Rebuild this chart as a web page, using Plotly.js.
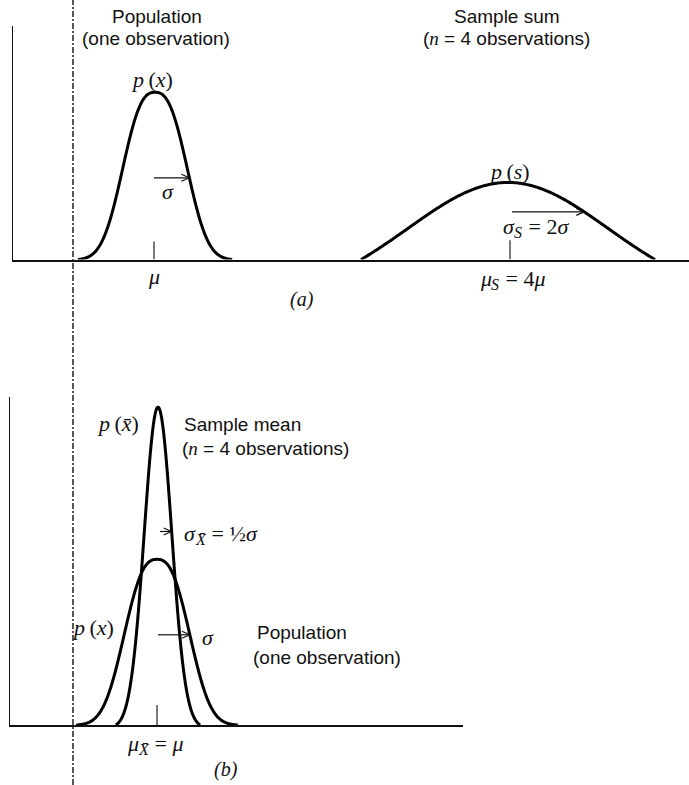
<!DOCTYPE html>
<html><head><meta charset="utf-8">
<script src="https://cdn.plot.ly/plotly-3.0.1.min.js"></script>
<style>html,body{margin:0;padding:0;background:#fff}</style>
</head><body><div id="chart" style="width:689px;height:785px"></div>
<script>
// ---- Data (axis units; each panel has its own axes) ----
const curveNames   = ["Population (a)", "Sample sum (a)", "Population (b)", "Sample mean (b)"];
const curvePanels  = ["a", "a", "b", "b"];
const curveMeans   = [14.2, 49.5, 14.7, 14.8];
const curveSigmas  = [3.0, 10.0, 3.05, 1.38];
const curveSpans   = [2.57, 1.47, 2.65, 3.05];   // drawn half-width, in sigmas
const curveShapes  = [2.6, 2.0, 2.6, 2.0];       // bell exponent (2 = normal)
const curvePeaks   = [0.716, 0.33, 0.505, 0.969];
const arrowHeights = [0.35, 0.204, 0.275, 0.59]; // height of each sigma arrow
const arrowStarts  = [14.1, 49.9, 14.8, 15.0];   // tail x of each sigma arrow
const meanTickPanels  = ["a", "a", "b"];
const meanTickX       = [14.1, 49.7, 14.7];
const meanTickHeights = [0.077, 0.082, 0.061];
const originLineX = 6.0;                         // dashed vertical line (panel a units)
const xRangeA = [0, 67.6], yRangeA = [0, 1];
const xRangeB = [0, 45.3], yRangeB = [0, 1];

// ---- helpers ----
function g(z, p){ return Math.exp(-0.5*Math.pow(Math.abs(z), p)); }
function curveY(i, x){
  const z = (x - curveMeans[i]) / curveSigmas[i], s = curveSpans[i], p = curveShapes[i];
  if (Math.abs(z) > s) return 0;
  return curvePeaks[i] * (g(z, p) - g(s, p)) / (1 - g(s, p));
}
function curveXAt(i, h){ // right-side x where the curve reaches height h
  const s = curveSpans[i], p = curveShapes[i];
  const gv = g(s, p) + (h / curvePeaks[i]) * (1 - g(s, p));
  return curveMeans[i] + curveSigmas[i] * Math.pow(-2*Math.log(gv), 1/p);
}
const ax = p => p === "a" ? "x" : "x2";
const ay = p => p === "a" ? "y" : "y2";

const traces = curveNames.map((name, i) => {
  const xs = [], ys = [];
  const lo = curveMeans[i] - curveSpans[i]*curveSigmas[i];
  const hi = curveMeans[i] + curveSpans[i]*curveSigmas[i];
  for (let k = 0; k <= 240; k++) { const x = lo + (hi-lo)*k/240; xs.push(x); ys.push(curveY(i, x)); }
  return {x: xs, y: ys, name, type: "scatter", mode: "lines",
          line: {color: "#000", width: 3, shape: "spline"},
          xaxis: ax(curvePanels[i]), yaxis: ay(curvePanels[i]), hoverinfo: "skip"};
});

const shapes = [];
meanTickX.forEach((x, i) => {
  shapes.push({type: "line", xref: ax(meanTickPanels[i]), yref: ay(meanTickPanels[i]),
    x0: x, x1: x, y0: 0, y1: meanTickHeights[i], line: {color: "#222", width: 1.2}});
});
shapes.push({type: "line", xref: "x", yref: "paper", x0: originLineX, x1: originLineX, y0: 0, y1: 1,
  line: {color: "#222", width: 1.5, dash: "6px,2px,2px,2px"}});
// sigma arrows: shaft from tail to the curve, plus two barbs sized in pixels
curveNames.forEach((n, i) => {
  const p = curvePanels[i], h = arrowHeights[i], tip = curveXAt(i, h);
  const ln = {color: "#111", width: 1.2};
  shapes.push({type: "line", xref: ax(p), yref: ay(p), x0: arrowStarts[i], x1: tip, y0: h, y1: h, line: ln});
  [1, -1].forEach(sg => shapes.push({type: "line", xref: ax(p), yref: ay(p),
    xsizemode: "pixel", xanchor: tip, x0: -8, x1: 0,
    ysizemode: "pixel", yanchor: h, y0: 3.5*sg, y1: 0, line: ln}));
});

const W = 689, H = 785;
const SANS = "Liberation Sans", SERIF = "Liberation Serif";
function lab(text, px, py, opt){
  opt = opt || {};
  return {text, x: px/W, y: 1 - py/H, xref: "paper", yref: "paper", showarrow: false,
    xanchor: opt.xa || "center", yanchor: "middle",
    font: {family: opt.serif ? SERIF : SANS, size: opt.size || 19, color: "#111"}};
}
// math label built from pieces (main text + subscript), measured with a canvas
const cv = document.createElement("canvas").getContext("2d");
function segW(str, size, it){ cv.font = (it ? "italic " : "") + size + "px 'Liberation Serif'"; return cv.measureText(str).width; }
function mathLab(pieces, px, py, align){
  const widths = pieces.map(pc => pc.segs.reduce((w, s) => w + segW(s[0], pc.size, s[1]), 0) + (pc.gap || 0));
  const total = widths.reduce((a, b) => a + b, 0);
  let x = align === "left" ? px : px - total/2;
  return pieces.map((pc, k) => {
    const html = pc.segs.map(s => s[1] ? "<i>" + s[0] + "</i>" : s[0]).join("");
    const a = lab(html, x + (pc.pre || 0), py + (pc.dy || 0), {serif: true, size: pc.size, xa: "left"});
    x += widths[k];
    return a;
  });
}
const NB = "\u00a0";
const main = (segs, pre) => ({segs, size: 22, pre: pre || 0});
const sub  = segs => ({segs, size: 16, dy: 6, gap: 1});

const M = {serif: true, size: 22};
const sn = '<span style="font-family:Liberation Serif"><i>n</i></span>';
const annotations = [
  lab("Population", 157, 17),
  lab("(one observation)", 156, 39),
  lab("<i>p</i>\u2009(<i>x</i>)", 152, 80, M),
  lab("<i>σ</i>", 168, 192, M),
  lab("<i>μ</i>", 154, 277, M),
  lab("<i>(a)</i>", 302, 299, {serif: true, size: 20}),
  lab("Sample sum", 507, 17),
  lab("(" + sn + " = 4 observations)", 507, 39),
  lab("<i>p</i>\u2009(<i>s</i>)", 509, 172, M),
  lab("<i>p</i>\u2009(<i>x̄</i>)", 118, 423, M),
  lab("Sample mean", 182, 424, {xa: "left"}),
  lab("(" + sn + " = 4 observations)", 180, 448, {xa: "left"}),
  lab("<i>p</i>\u2009(<i>x</i>)", 93, 627, M),
  lab("<i>σ</i>", 208, 637, M),
  lab("Population", 255, 632, {xa: "left"}),
  lab("(one observation)", 251, 657, {xa: "left"}),
  lab("<i>(b)</i>", 226, 769, {serif: true, size: 20})
].concat(
  mathLab([main([["σ", 1]]), sub([["S", 1]]), main([[NB + "=" + NB + "2", 0], ["σ", 1]])], 534, 227),
  mathLab([main([["μ", 1]]), sub([["S", 1]]), main([[NB + "=" + NB + "4", 0], ["μ", 1]])], 511, 279),
  mathLab([main([["σ", 1]]), sub([["X̄", 1]]), main([[NB + "=" + NB + "½", 0], ["σ", 1]])], 182, 533, "left"),
  mathLab([main([["μ", 1]]), sub([["X̄", 1]]), main([[NB + "=" + NB, 0], ["μ", 1]])], 153, 743)
);

const axisBase = {showgrid: false, zeroline: false, showticklabels: false, ticks: "",
  showline: true, linecolor: "#111", fixedrange: true};
const layout = {
  width: W, height: H, margin: {l: 0, r: 0, t: 0, b: 0},
  paper_bgcolor: "#fff", plot_bgcolor: "rgba(0,0,0,0)", showlegend: false,
  xaxis:  Object.assign({}, axisBase, {domain: [13/W, 1], range: xRangeA, anchor: "y", linewidth: 2}),
  yaxis:  Object.assign({}, axisBase, {domain: [1-259.5/H, 1-26/H], range: yRangeA, anchor: "x", linewidth: 1.5}),
  xaxis2: Object.assign({}, axisBase, {domain: [10/W, 463/W], range: xRangeB, anchor: "y2", linewidth: 2}),
  yaxis2: Object.assign({}, axisBase, {domain: [1-725/H, 1-397/H], range: yRangeB, anchor: "x2", linewidth: 1.5}),
  shapes, annotations
};
Plotly.newPlot("chart", traces, layout, {staticPlot: true, displayModeBar: false});
</script></body></html>
